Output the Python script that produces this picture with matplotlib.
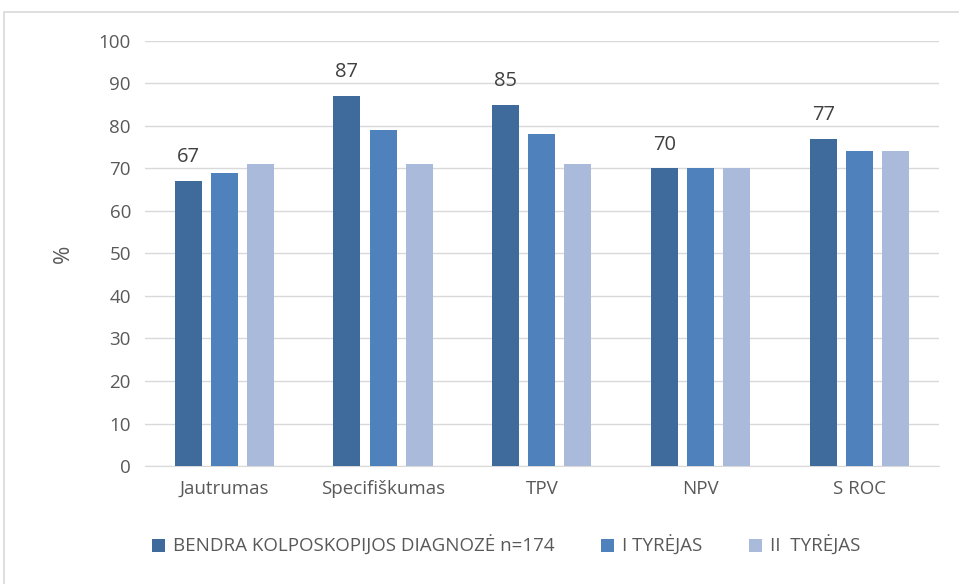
import numpy as np
import matplotlib.pyplot as plt
from matplotlib.patches import Rectangle

# --- Datos ---
categorias = ["Jautrumas", "Specifiškumas", "TPV", "NPV", "S ROC"]
bendra = [67, 87, 85, 70, 77]
tyrejas_1 = [69, 79, 78, 70, 74]
tyrejas_2 = [71, 71, 71, 70, 74]
serie_nombres = ["BENDRA KOLPOSKOPIJOS DIAGNOZĖ n=174", "I TYRĖJAS", "II  TYRĖJAS"]
colores = ["#3F6A9C", "#4F81BD", "#A9BADA"]

plt.rcParams['font.family'] = ['Open Sans', 'DejaVu Sans']

fig = plt.figure(figsize=(9.59, 5.84), dpi=100)
ax = fig.add_axes([0.151, 0.202, 0.828, 0.728])

# marco del gráfico
fig.patches.append(Rectangle((4 / 959, -0.1), 1.0, 1 - 12 / 584 + 0.1,
                             transform=fig.transFigure, fill=False,
                             edgecolor="#D9D9D9", linewidth=1.2))

x = np.arange(len(categorias))
ancho = 0.17
paso = 0.227
series = [bendra, tyrejas_1, tyrejas_2]
for i, (vals, nombre, col) in enumerate(zip(series, serie_nombres, colores)):
    barras = ax.bar(x + (i - 1) * paso, vals, width=ancho, color=col,
                    label=nombre, zorder=3)
    if i == 0:
        ax.bar_label(barras, labels=[str(v) for v in vals], padding=10,
                     fontsize=14.5, color="#404040")

ax.set_xlim(-0.5, len(categorias) - 0.5)
ax.set_ylim(0, 100)
ax.set_yticks(range(0, 101, 10))
ax.yaxis.grid(True, color="#D9D9D9", linewidth=1, zorder=0)
for s in ["top", "right", "left"]:
    ax.spines[s].set_visible(False)
ax.spines["bottom"].set_color("#D9D9D9")
ax.tick_params(axis="both", length=0, labelsize=13.5, labelcolor="#595959", pad=10)
ax.set_xticks(x)
ax.set_xticklabels(categorias)
ax.set_ylabel("%", fontsize=16, color="#595959", labelpad=18)

ax.legend(loc="upper center", bbox_to_anchor=(0.455, -0.125), ncol=3, frameon=False,
          fontsize=13.5, labelcolor="#595959", handlelength=0.7, handleheight=0.7,
          columnspacing=2.5, handletextpad=0.4)

fig.savefig("out.png", dpi=100)
